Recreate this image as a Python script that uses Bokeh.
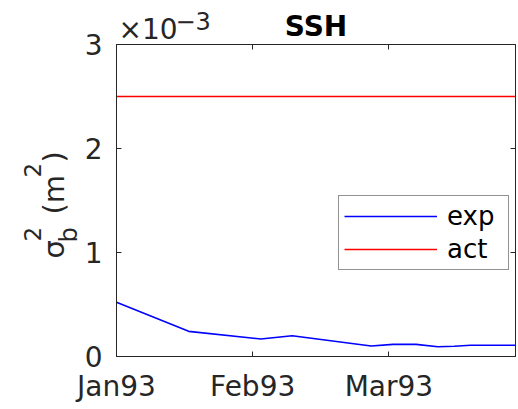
import math
from bokeh.plotting import figure
from bokeh.models import (Range1d, LinearAxis, FixedTicker, Legend, LegendItem,
                          ColumnDataSource, CustomJSTickFormatter)
from bokeh.core.properties import value
from bokeh.embed import file_html
from bokeh.resources import INLINE

# Time axis in months since January 1993
month_ticks = [0, 1, 2]
month_labels = ["Jan93", "Feb93", "Mar93"]
y_ticks = [0, 1, 2, 3]

# Background error variance of SSH, in units of 1e-3 m^2
t_exp = [0.00, 0.53, 1.06, 1.29, 1.87, 2.03, 2.20, 2.36, 2.48, 2.60, 2.93]
var_exp = [0.521, 0.242, 0.168, 0.200, 0.101, 0.117, 0.117, 0.094, 0.098, 0.108, 0.108]
t_act = [0.00, 2.93]
var_act = [2.5, 2.5]

X0, X1 = 0.0, 2.93
Y0, Y1 = 0.0, 3.0
W, H = 518, 409
FL, FT, FR, FB = 116, 44, 515, 356   # frame edges in page pixels
FONT = "DejaVu Sans"
INK = "#262626"
BASELINE_FIX = 0.32   # em offset between requested and drawn baseline of horizontal text glyphs


def dx(px):
    return X0 + (px - FL) / (FR - FL) * (X1 - X0)


def dy(py):
    return Y0 + (FB - py) / (FB - FT) * (Y1 - Y0)


p = figure(width=W, height=H, output_backend="svg", toolbar_location=None,
           x_range=Range1d(X0, X1), y_range=Range1d(Y0, Y1),
           min_border_left=FL, min_border_right=W - FR,
           min_border_top=FT, min_border_bottom=H - FB,
           background_fill_color="white", border_fill_color="white")
p.outline_line_color = INK
p.outline_line_width = 1
p.xgrid.grid_line_color = None
p.ygrid.grid_line_color = None

blank = CustomJSTickFormatter(code="return ''")


def style_axis(ax):
    ax.axis_line_color = INK
    ax.major_tick_line_color = INK
    ax.major_tick_in = 5
    ax.major_tick_out = 0
    ax.minor_tick_line_color = None
    ax.major_label_text_color = INK
    ax.major_label_text_font = FONT
    ax.major_label_text_font_size = "28px"


xa = p.xaxis[0]
xa.ticker = FixedTicker(ticks=month_ticks)
xa.major_label_overrides = {t: s for t, s in zip(month_ticks, month_labels)}
style_axis(xa)
xa.major_label_standoff = 13

ya = p.yaxis[0]
ya.ticker = FixedTicker(ticks=y_ticks)
style_axis(ya)
ya.major_label_standoff = 14

# Box ticks on the top and right edges
top_ax = LinearAxis(ticker=FixedTicker(ticks=month_ticks), formatter=blank)
style_axis(top_ax)
top_ax.major_label_text_font_size = "1px"
top_ax.major_label_standoff = 0
p.add_layout(top_ax, "above")
right_ax = LinearAxis(ticker=FixedTicker(ticks=y_ticks), formatter=blank)
style_axis(right_ax)
right_ax.major_label_text_font_size = "1px"
right_ax.major_label_standoff = 0
p.add_layout(right_ax, "right")

src_exp = ColumnDataSource(dict(t=t_exp, v=var_exp))
src_act = ColumnDataSource(dict(t=t_act, v=var_act))
r_exp = p.line("t", "v", source=src_exp, line_color="#0000ff", line_width=1.6)
r_act = p.line("t", "v", source=src_act, line_color="#ff0000", line_width=1.6)

legend = Legend(items=[LegendItem(label="exp", renderers=[r_exp]),
                       LegendItem(label="act", renderers=[r_act])],
                location=(222, 86), glyph_width=93, glyph_height=28,
                label_height=28, label_width=56, label_standoff=10,
                spacing=3, padding=5,
                label_text_font=FONT, label_text_font_size="26px",
                label_text_color="black", border_line_color=INK,
                border_line_width=1, background_fill_color="white",
                background_fill_alpha=1.0, margin=0)
p.add_layout(legend)

# Free texts outside the frame, drawn as overlay text glyphs
pieces = [
    # text, x px, y px (baseline start), size, bold, rotated, align
    ("SSH", (FL + FR) / 2, 35, 28, True, False, "center"),
    ("\u00d710", 118, 38, 28, False, False, "left"),
    ("\u22123", 175, 28, 24, False, False, "left"),
    ("\u03c3", 53, 258, 29, False, True, "left"),
    ("2", 32, 241, 23, False, True, "left"),
    ("b", 68, 242, 24, False, True, "left"),
    ("(m", 53, 214, 29, False, True, "left"),
    ("2", 32, 177, 23, False, True, "left"),
    (")", 53, 162, 29, False, True, "left"),
]
for s, px, py, size, bold, rotated, align in pieces:
    if rotated:
        ang = math.pi / 2
    else:
        py, ang = py - BASELINE_FIX * size, 0.0
    r = p.text(x=[dx(px)], y=[dy(py)], text=[s], angle=ang,
               text_font=value(FONT), text_font_size=f"{size}px",
               text_font_style="bold" if bold else "normal",
               text_color="black" if bold else INK,
               text_align=align, text_baseline="alphabetic")
    r.level = "overlay"

open("out.html", "w").write(file_html(p, INLINE))
